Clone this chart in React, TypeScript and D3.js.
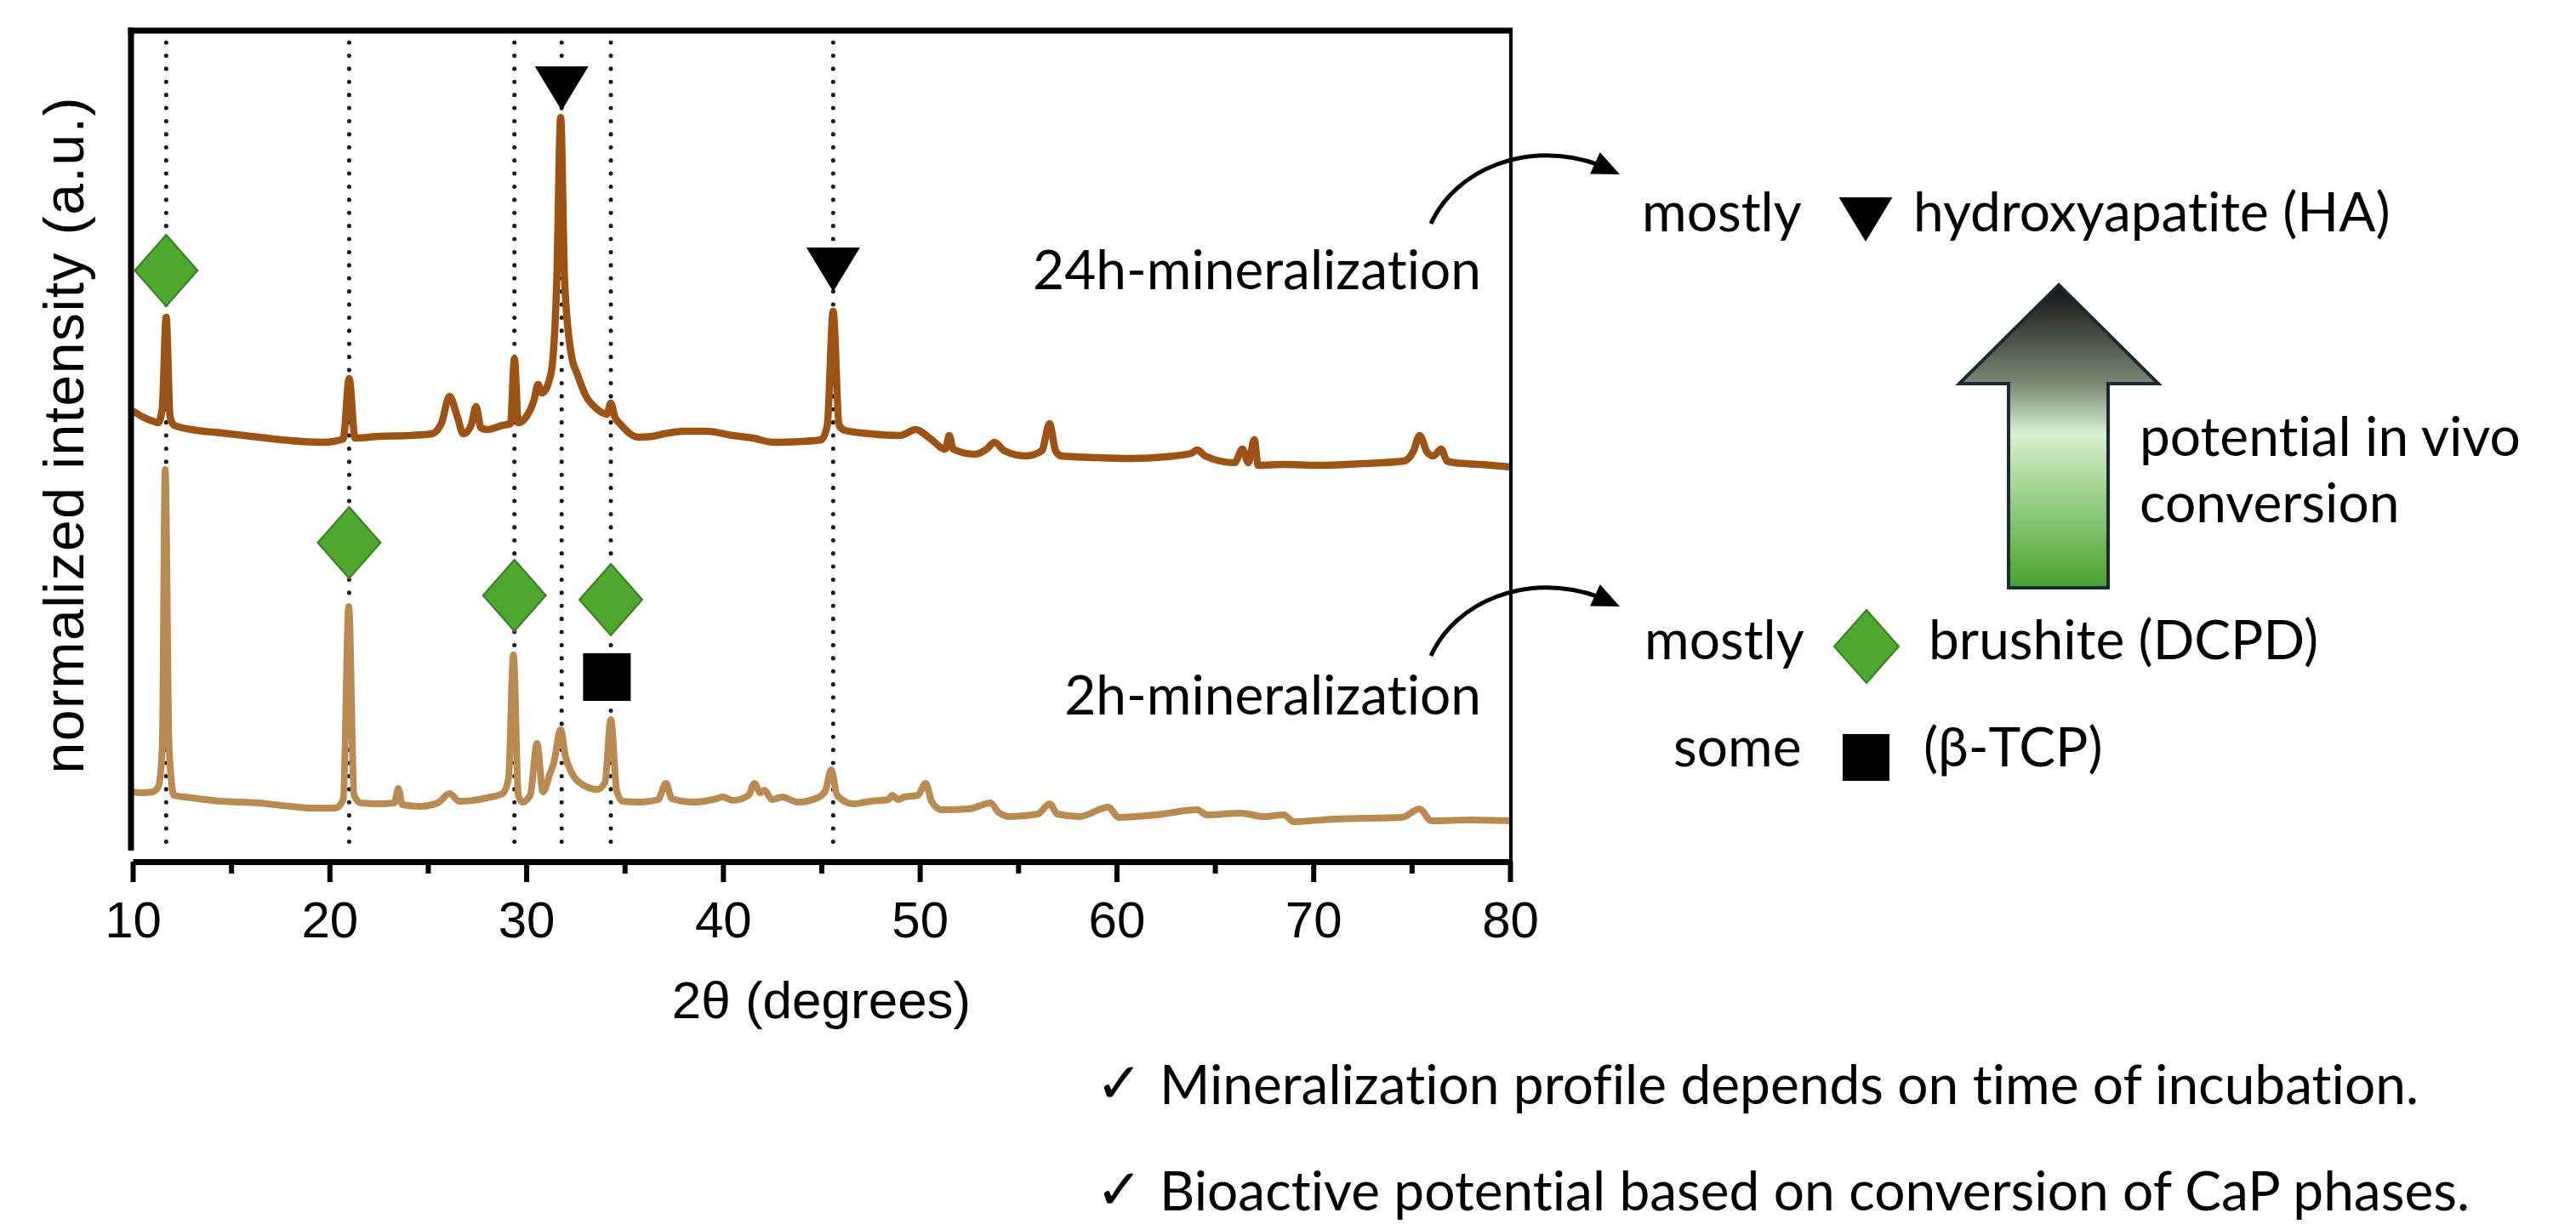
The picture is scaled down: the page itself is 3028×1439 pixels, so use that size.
import React, { useRef, useEffect } from 'react';
import * as d3 from 'd3';

// XRD pattern after 24 h mineralization (2θ in degrees, intensity in a.u.)
const theta24h = [10.0, 10.5, 11.0, 11.3, 11.5, 11.7, 11.9, 12.1, 13.0, 14.5, 16.4, 18.0, 19.7, 20.7, 21.0, 21.3, 22.5, 24.0, 25.2, 25.7, 26.1, 26.5, 26.8, 27.2, 27.45, 27.7, 28.0, 28.8, 29.2, 29.4, 29.6, 30.0, 30.4, 30.6, 30.8, 31.25, 31.55, 31.75, 31.95, 32.3, 32.6, 33.0, 33.6, 34.1, 34.3, 34.5, 34.8, 35.7, 36.4, 37.0, 38.0, 39.2, 40.5, 41.5, 42.6, 44.0, 45.0, 45.3, 45.6, 45.9, 46.2, 47.5, 49.0, 49.8, 50.5, 51.3, 51.5, 51.7, 52.8, 53.4, 53.8, 54.3, 55.4, 56.2, 56.6, 56.9, 57.2, 59.0, 60.8, 62.5, 63.8, 64.1, 64.5, 66.0, 66.4, 66.7, 67.0, 67.2, 68.5, 70.2, 72.5, 74.6, 75.1, 75.4, 75.8, 76.1, 76.5, 76.8, 77.2, 78.5, 80.0];
const counts24h = [517, 510, 505, 503, 520, 627, 510, 500, 495, 491, 486, 482, 480, 484, 555, 485, 487, 488, 490, 503, 534, 510, 490, 500, 522, 497, 495, 500, 502, 578, 503, 510, 530, 548, 538, 560, 670, 862, 670, 582, 560, 536, 519, 513, 526, 510, 501, 486, 487, 490, 493, 493, 488, 485, 480, 481, 483, 500, 634, 500, 494, 490, 488, 495, 485, 472, 488, 472, 466, 472, 480, 470, 464, 470, 502, 470, 464, 462, 461, 463, 467, 471, 464, 456, 472, 456, 483, 453, 454, 453, 455, 458, 470, 488, 468, 464, 472, 458, 456, 454, 451];

// XRD pattern after 2 h mineralization
const theta2h = [10.0, 10.5, 11.0, 11.3, 11.5, 11.65, 11.85, 12.1, 13.0, 14.5, 16.4, 18.0, 19.1, 20.3, 20.7, 20.98, 21.25, 21.6, 22.5, 23.3, 23.5, 23.7, 24.6, 25.5, 26.1, 26.6, 27.3, 28.0, 28.8, 29.1, 29.35, 29.6, 29.8, 30.2, 30.55, 30.85, 31.2, 31.4, 31.75, 32.0, 32.3, 32.9, 33.6, 34.0, 34.3, 34.6, 34.9, 35.7, 36.7, 37.1, 37.4, 38.5, 39.5, 40.0, 40.5, 41.3, 41.6, 41.9, 42.1, 42.5, 43.0, 43.8, 44.8, 45.2, 45.5, 45.8, 46.6, 47.5, 48.4, 48.6, 48.9, 49.2, 49.9, 50.3, 50.6, 51.1, 52.5, 53.6, 54.0, 54.6, 56.0, 56.6, 57.0, 58.1, 59.6, 60.1, 62.0, 64.1, 64.6, 66.3, 67.5, 68.5, 69.0, 71.0, 74.5, 75.4, 76.0, 78.0, 80.0];
const counts2h = [69, 68, 69, 75, 120, 448, 120, 65, 62, 58, 56, 52, 50, 50, 60, 287, 65, 56, 55, 56, 73, 54, 52, 56, 67, 58, 59, 62, 67, 85, 230, 65, 57, 65, 126, 69, 90, 103, 142, 110, 92, 77, 72, 80, 154, 70, 58, 57, 60, 79, 61, 57, 60, 63, 59, 65, 79, 68, 71, 60, 63, 57, 62, 70, 95, 65, 55, 58, 60, 65, 60, 63, 65, 79, 58, 48, 49, 56, 45, 40, 43, 55, 43, 40, 51, 39, 42, 48, 42, 44, 40, 42, 34, 37, 39, 49, 35, 36, 35];

// dotted reference lines (2θ)
const refLines = [11.7, 21.0, 29.4, 31.8, 34.3, 45.6];

// phase markers: 2θ and intensity level of the marker centre / apex
const brushiteTheta = [11.7, 21.0, 29.4, 34.3];
const brushiteLevel = [682, 362, 300, 295];
const hapTheta = [31.8, 45.6];
const hapLevel = [870, 657];
const tcpTheta = [34.1];
const tcpLevel = [204];

const xTicks = [10, 20, 30, 40, 50, 60, 70, 80];
const xMinorTicks = [15, 25, 35, 45, 55, 65, 75];

const GREEN = '#4ea72e';
const GREEN_EDGE = '#3b7d24';
const C24 = '#9c5316';
const C2 = '#b98b52';
const AXIS_FONT = '"Liberation Sans", Arial, sans-serif';
const NOTE_FONT = 'Lato, "Open Sans", sans-serif';

const W = 3028;
const H = 1439;

const diamond = (cx: number, cy: number, hw = 37, hh = 42) =>
  `M${cx},${cy - hh}L${cx + hw},${cy}L${cx},${cy + hh}L${cx - hw},${cy}Z`;
const triangleDown = (cx: number, apexY: number, w = 63, h = 52) =>
  `M${cx - w / 2},${apexY - h}L${cx + w / 2},${apexY - h}L${cx},${apexY}Z`;

const arrowHead = (tx: number, ty: number, fx: number, fy: number, len = 32, half = 14) => {
  const dx = tx - fx, dy = ty - fy;
  const n = Math.hypot(dx, dy);
  const ux = dx / n, uy = dy / n;
  const bx = tx - ux * len, by = ty - uy * len;
  return `M${tx},${ty}L${bx - uy * half},${by + ux * half}L${bx + uy * half},${by - ux * half}Z`;
};

const XrdChart = () => {
  const svgRef = useRef<SVGGElement | null>(null);

  useEffect(() => {
    if (!svgRef.current) return;
    const svg = d3.select(svgRef.current);
    svg.selectAll('*').remove();

    const x = d3.scaleLinear().domain([10, 80]).range([156, 1775]);
    const y = d3.scaleLinear().domain([0, 964]).range([1000, 36]);

    // dotted guides
    svg.append('g')
      .selectAll('line')
      .data(refLines)
      .enter()
      .append('line')
      .attr('x1', d => x(d))
      .attr('x2', d => x(d))
      .attr('y1', 50)
      .attr('y2', 995)
      .attr('stroke', '#1a1a1a')
      .attr('stroke-width', 5)
      .attr('stroke-linecap', 'round')
      .attr('stroke-dasharray', '0.1 15.3');

    // patterns
    const line = d3.line<[number, number]>()
      .x(d => x(d[0]))
      .y(d => y(d[1]))
      .curve(d3.curveMonotoneX);

    const series = [
      { pts: theta24h.map((t, i) => [t, counts24h[i]] as [number, number]), color: C24, w: 8.5 },
      { pts: theta2h.map((t, i) => [t, counts2h[i]] as [number, number]), color: C2, w: 8 },
    ];
    svg.append('g')
      .selectAll('path')
      .data(series)
      .enter()
      .append('path')
      .attr('d', d => line(d.pts))
      .attr('fill', 'none')
      .attr('stroke', d => d.color)
      .attr('stroke-width', d => d.w)
      .attr('stroke-linejoin', 'round');

    // markers
    svg.append('g')
      .selectAll('path')
      .data(brushiteTheta)
      .enter()
      .append('path')
      .attr('d', (d, i) => diamond(x(d), y(brushiteLevel[i])))
      .attr('fill', GREEN)
      .attr('stroke', GREEN_EDGE)
      .attr('stroke-width', 2);

    svg.append('g')
      .selectAll('path')
      .data(hapTheta)
      .enter()
      .append('path')
      .attr('d', (d, i) => triangleDown(x(d), y(hapLevel[i])))
      .attr('fill', '#000');

    svg.append('g')
      .selectAll('rect')
      .data(tcpTheta)
      .enter()
      .append('rect')
      .attr('x', d => x(d) - 28)
      .attr('y', (d, i) => y(tcpLevel[i]) - 28)
      .attr('width', 56)
      .attr('height', 56)
      .attr('fill', '#000');

    // frame
    const frame = svg.append('g').attr('stroke', '#000').attr('fill', 'none');
    frame.append('line').attr('x1', 150.5).attr('x2', 1778).attr('y1', 36).attr('y2', 36).attr('stroke-width', 7);
    frame.append('line').attr('x1', 154).attr('x2', 154).attr('y1', 32.5).attr('y2', 1000).attr('stroke-width', 7);
    frame.append('line').attr('x1', 1776).attr('x2', 1776).attr('y1', 33).attr('y2', 1037).attr('stroke-width', 4);

    // x axis
    const axisG = svg.append('g').attr('transform', 'translate(0,1013)');
    axisG.call(d3.axisBottom(x).tickValues(xTicks).tickSize(24).tickSizeOuter(0).tickFormat(d3.format('d')));
    axisG.select('.domain').attr('stroke-width', 7).attr('stroke', '#000');
    axisG.selectAll('.tick line').attr('stroke-width', 6).attr('stroke', '#000');
    axisG.selectAll('.tick text')
      .attr('y', 89)
      .attr('dy', 0)
      .attr('fill', '#000')
      .style('font-family', AXIS_FONT)
      .style('font-size', '60px');

    const minorG = svg.append('g').attr('transform', 'translate(0,1013)');
    minorG.call(d3.axisBottom(x).tickValues(xMinorTicks).tickSize(14).tickSizeOuter(0).tickFormat(() => ''));
    minorG.select('.domain').remove();
    minorG.selectAll('.tick line').attr('stroke-width', 6).attr('stroke', '#000');

    // axis titles
    svg.append('text')
      .attr('x', x(45))
      .attr('y', 1197)
      .attr('text-anchor', 'middle')
      .style('font-family', AXIS_FONT)
      .style('font-size', '62px')
      .text('2θ (degrees)');

    svg.append('text')
      .attr('transform', 'translate(98,512) rotate(-90)')
      .attr('text-anchor', 'middle')
      .attr('textLength', 795)
      .attr('lengthAdjust', 'spacing')
      .style('font-family', AXIS_FONT)
      .style('font-size', '66px')
      .text('normalized intensity (a.u.)');
  }, []);

  const note = {
    fontFamily: NOTE_FONT,
    fontSize: 64,
    fill: '#000',
    fontVariantLigatures: 'none',
    fontFeatureSettings: '"liga" 0, "clig" 0',
  } as const;
  const check = { fontFamily: '"DejaVu Sans", sans-serif', fontSize: 66, fill: '#000' } as const;

  return (
    <svg
      width={W}
      height={H}
      style={{ position: 'absolute', left: 0, top: 0, display: 'block', background: '#fff' }}
    >
      <defs>
        <linearGradient id="convGrad" gradientUnits="userSpaceOnUse" x1="0" y1="335" x2="0" y2="691">
          <stop offset="0" stopColor="#111111" />
          <stop offset="0.33" stopColor="#7d8b77" />
          <stop offset="0.49" stopColor="#d7f0cf" />
          <stop offset="1" stopColor="#49a22b" />
        </linearGradient>
      </defs>
      <rect width={W} height={H} fill="#fff" />
      <g ref={svgRef} />

      {/* connectors from the sample labels */}
      <path d="M1682,263 C1710,200 1795,163 1880,194" fill="none" stroke="#000" strokeWidth={5} />
      <path d={arrowHead(1904, 205, 1880, 194)} fill="#000" />
      <path d="M1682,771 C1710,708 1795,671 1880,702" fill="none" stroke="#000" strokeWidth={5} />
      <path d={arrowHead(1904, 713, 1880, 702)} fill="#000" />

      <text x={1741} y={340} textAnchor="end" style={note}>24h-mineralization</text>
      <text x={1741} y={840} textAnchor="end" style={note}>2h-mineralization</text>

      {/* phase summary */}
      <text x={1930} y={272} style={note}>mostly</text>
      <path d={triangleDown(2193, 284)} fill="#000" />
      <text x={2249} y={272} style={note}>hydroxyapatite (HA)</text>

      <path
        d="M2420,335 L2537,451 L2478,451 L2478,691 L2361,691 L2361,451 L2303,451 Z"
        fill="url(#convGrad)"
        stroke="#1b2a33"
        strokeWidth={4}
        strokeLinejoin="miter"
      />
      <text x={2515} y={536} style={note}>potential in vivo</text>
      <text x={2515} y={614} style={note}>conversion</text>

      <text x={1933} y={775} style={note}>mostly</text>
      <path d={diamond(2194, 760, 38, 43)} fill={GREEN} stroke={GREEN_EDGE} strokeWidth={2} />
      <text x={2267} y={775} style={note}>brushite (DCPD)</text>

      <text x={1967} y={901} style={note}>some</text>
      <rect x={2166} y={863} width={55} height={55} fill="#000" />
      <text x={2261} y={901} style={note}>(β-TCP)</text>

      {/* conclusions */}
      <text x={1288} y={1296} style={check}>✓</text>
      <text x={1363} y={1298} textLength={1480} lengthAdjust="spacingAndGlyphs" style={note}>
        Mineralization profile depends on time of incubation.
      </text>
      <text x={1288} y={1421} style={check}>✓</text>
      <text x={1363} y={1423} textLength={1540} lengthAdjust="spacingAndGlyphs" style={note}>
        Bioactive potential based on conversion of CaP phases.
      </text>
    </svg>
  );
};

export default function App() {
  return <XrdChart />;
}
